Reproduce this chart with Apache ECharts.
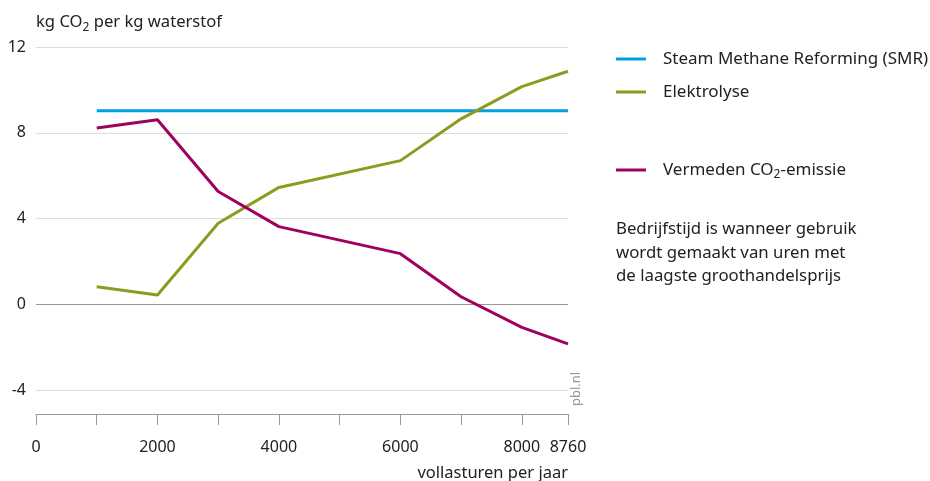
<!DOCTYPE html>
<html lang="nl">
<head>
    <meta charset="UTF-8">
    <title>Vermeden CO2-emissie waterstof</title>
    <script src="https://cdn.jsdelivr.net/npm/echarts@6/dist/echarts.min.js"></script>
    <style>
        html, body { margin: 0; padding: 0; background: #fff; }
        #chart { width: 930px; height: 481px; }
    </style>
</head>
<body>
    <div id="chart"></div>
    <script>
        // vollasturen per jaar
        let hours = [1000, 2000, 3000, 4000, 6000, 7000, 8000, 8760];
        // kg CO2 per kg waterstof
        let smr = [9.03, 9.03, 9.03, 9.03, 9.03, 9.03, 9.03, 9.03];
        let elektrolyse = [0.82, 0.43, 3.78, 5.45, 6.7, 8.65, 10.15, 10.87];
        let vermeden = [8.22, 8.61, 5.26, 3.62, 2.36, 0.35, -1.08, -1.85];

        // as-labels
        let xLabels = [0, 2000, 4000, 6000, 8000, 8760];
        let xTicks = [0, 1000, 2000, 3000, 4000, 5000, 6000, 7000, 8000, 8760];

        let font = '"Noto Sans", sans-serif';
        let textColor = '#222';

        function pairs(ys) {
            return hours.map((h, i) => [h, ys[i]]);
        }

        let chart = echarts.init(document.getElementById('chart'));
        chart.setOption({
            animation: false,
            textStyle: { fontFamily: font },
            grid: { left: 36, right: 362, top: 47, bottom: 91, containLabel: false },
            xAxis: {
                type: 'value',
                min: 0,
                max: 8760,
                offset: 24,
                axisLine: { show: true, onZero: false, lineStyle: { color: '#999', width: 1 } },
                axisTick: { show: true, length: 11, lineStyle: { color: '#999' }, customValues: xTicks },
                axisLabel: {
                    customValues: xLabels,
                    formatter: function (v) { return String(v); },
                    margin: 25,
                    fontSize: 16,
                    color: textColor,
                    fontFamily: font
                },
                splitLine: { show: false }
            },
            yAxis: {
                type: 'value',
                min: -4,
                max: 12,
                interval: 4,
                axisLine: { show: false },
                axisTick: { show: false },
                axisLabel: { margin: 10, fontSize: 16, color: textColor, fontFamily: font },
                splitLine: {
                    show: true,
                    lineStyle: { color: ['#dcdcdc', '#999999', '#dcdcdc', '#dcdcdc', '#dcdcdc'], width: 1 }
                }
            },
            legend: [
                {
                    data: ['Steam Methane Reforming (SMR)', 'Elektrolyse'],
                    orient: 'vertical',
                    left: 611,
                    top: 44,
                    icon: 'rect',
                    itemWidth: 30,
                    itemHeight: 3,
                    itemGap: 13,
                    selectedMode: false,
                    textStyle: { fontSize: 17, color: textColor, lineHeight: 20, padding: [0, 0, 0, 12], fontFamily: font }
                },
                {
                    data: ['Vermeden CO2-emissie'],
                    orient: 'vertical',
                    left: 611,
                    top: 155,
                    icon: 'rect',
                    itemWidth: 30,
                    itemHeight: 3,
                    selectedMode: false,
                    formatter: function () {
                        return '{a|Vermeden CO}{s|2}{a|-emissie}';
                    },
                    textStyle: {
                        fontSize: 17, color: textColor, lineHeight: 20, padding: [0, 0, 0, 12], fontFamily: font,
                        rich: {
                            a: { fontSize: 17, color: textColor, fontFamily: font },
                            s: { fontSize: 12, color: textColor, fontFamily: font, padding: [10, 0, 0, 0] }
                        }
                    }
                }
            ],
            graphic: [
                {
                    type: 'text',
                    left: 36,
                    top: 14,
                    style: {
                        text: '{a|kg CO}{s|2}{a| per kg waterstof}',
                        rich: {
                            a: { fontSize: 16.6, fill: textColor, fontFamily: font },
                            s: { fontSize: 12, fill: textColor, fontFamily: font, padding: [10, 0, 0, 0] }
                        }
                    }
                },
                {
                    type: 'text',
                    right: 362,
                    top: 465,
                    style: { text: 'vollasturen per jaar', fontSize: 16.5, fill: textColor, fontFamily: font }
                },
                {
                    type: 'text',
                    x: 583,
                    y: 406,
                    rotation: Math.PI / 2,
                    style: { text: 'pbl.nl', fontSize: 13, fill: '#9a9a9a', fontFamily: font, align: 'left', verticalAlign: 'bottom' }
                },
                {
                    type: 'text',
                    left: 616,
                    top: 218,
                    style: {
                        text: 'Bedrijfstijd is wanneer gebruik\nwordt gemaakt van uren met\nde laagste groothandelsprijs',
                        fontSize: 16.8,
                        lineHeight: 23.3,
                        fill: textColor,
                        fontFamily: font
                    }
                }
            ],
            series: [
                {
                    name: 'Steam Methane Reforming (SMR)',
                    type: 'line',
                    data: pairs(smr),
                    showSymbol: false,
                    itemStyle: { color: '#00a1e0' },
                    lineStyle: { width: 3, color: '#00a1e0' }
                },
                {
                    name: 'Elektrolyse',
                    type: 'line',
                    data: pairs(elektrolyse),
                    showSymbol: false,
                    itemStyle: { color: '#8f9a21' },
                    lineStyle: { width: 3, color: '#8f9a21' }
                },
                {
                    name: 'Vermeden CO2-emissie',
                    type: 'line',
                    data: pairs(vermeden),
                    showSymbol: false,
                    itemStyle: { color: '#a0005f' },
                    lineStyle: { width: 3, color: '#a0005f' }
                }
            ]
        });
    </script>
</body>
</html>
